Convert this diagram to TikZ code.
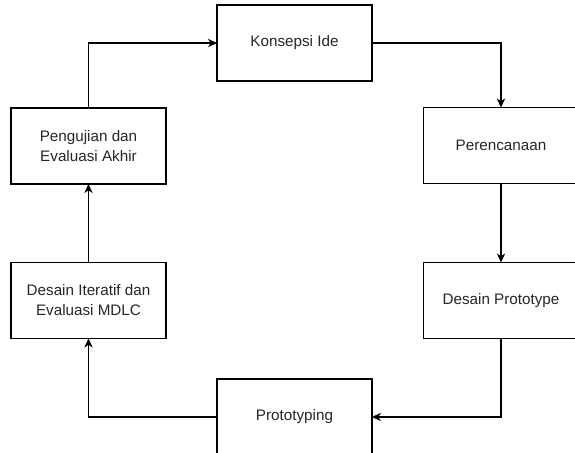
\documentclass[tikz,border=0pt]{standalone}
\usepackage{fontspec}
\setmainfont{Liberation Sans}
\usetikzlibrary{arrows.meta}

\begin{document}
\begin{tikzpicture}[x=0.03cm, y=-0.03cm,
  every node/.style={draw, line width=0.9pt, fill=white, minimum width=4.65cm, minimum height=2.28cm, align=center, font=\fontsize{13}{17}\selectfont, text=black!85, outer sep=0pt},
  arr/.style={line width=0.9pt, -{Stealth[length=2.7mm, width=2.5mm, inset=0.8mm]}}]
\useasboundingbox (0,0) rectangle (575,453);
\clip (0,0) rectangle (575,453);

\node (konsepsi) at (294.5,43) {Konsepsi Ide};
\node (perencanaan) at (501,145.5) {Perencanaan};
\node (desainproto) at (501,300.5) {Desain Prototype};
\node (prototyping) at (294.5,417) {Prototyping};
\node (iteratif) at (88.5,300.5) {Desain Iteratif dan\\Evaluasi MDLC};
\node (pengujian) at (88.5,146) {Pengujian dan\\Evaluasi Akhir};

\draw[arr] (konsepsi.east) -| (perencanaan.north);
\draw[arr] (perencanaan) -- (desainproto);
\draw[arr] (desainproto.south) |- (prototyping.east);
\draw[arr] (prototyping.west) -| (iteratif.south);
\draw[arr] (iteratif) -- (pengujian);
\draw[arr] (pengujian.north) |- (konsepsi.west);
\end{tikzpicture}
\end{document}
